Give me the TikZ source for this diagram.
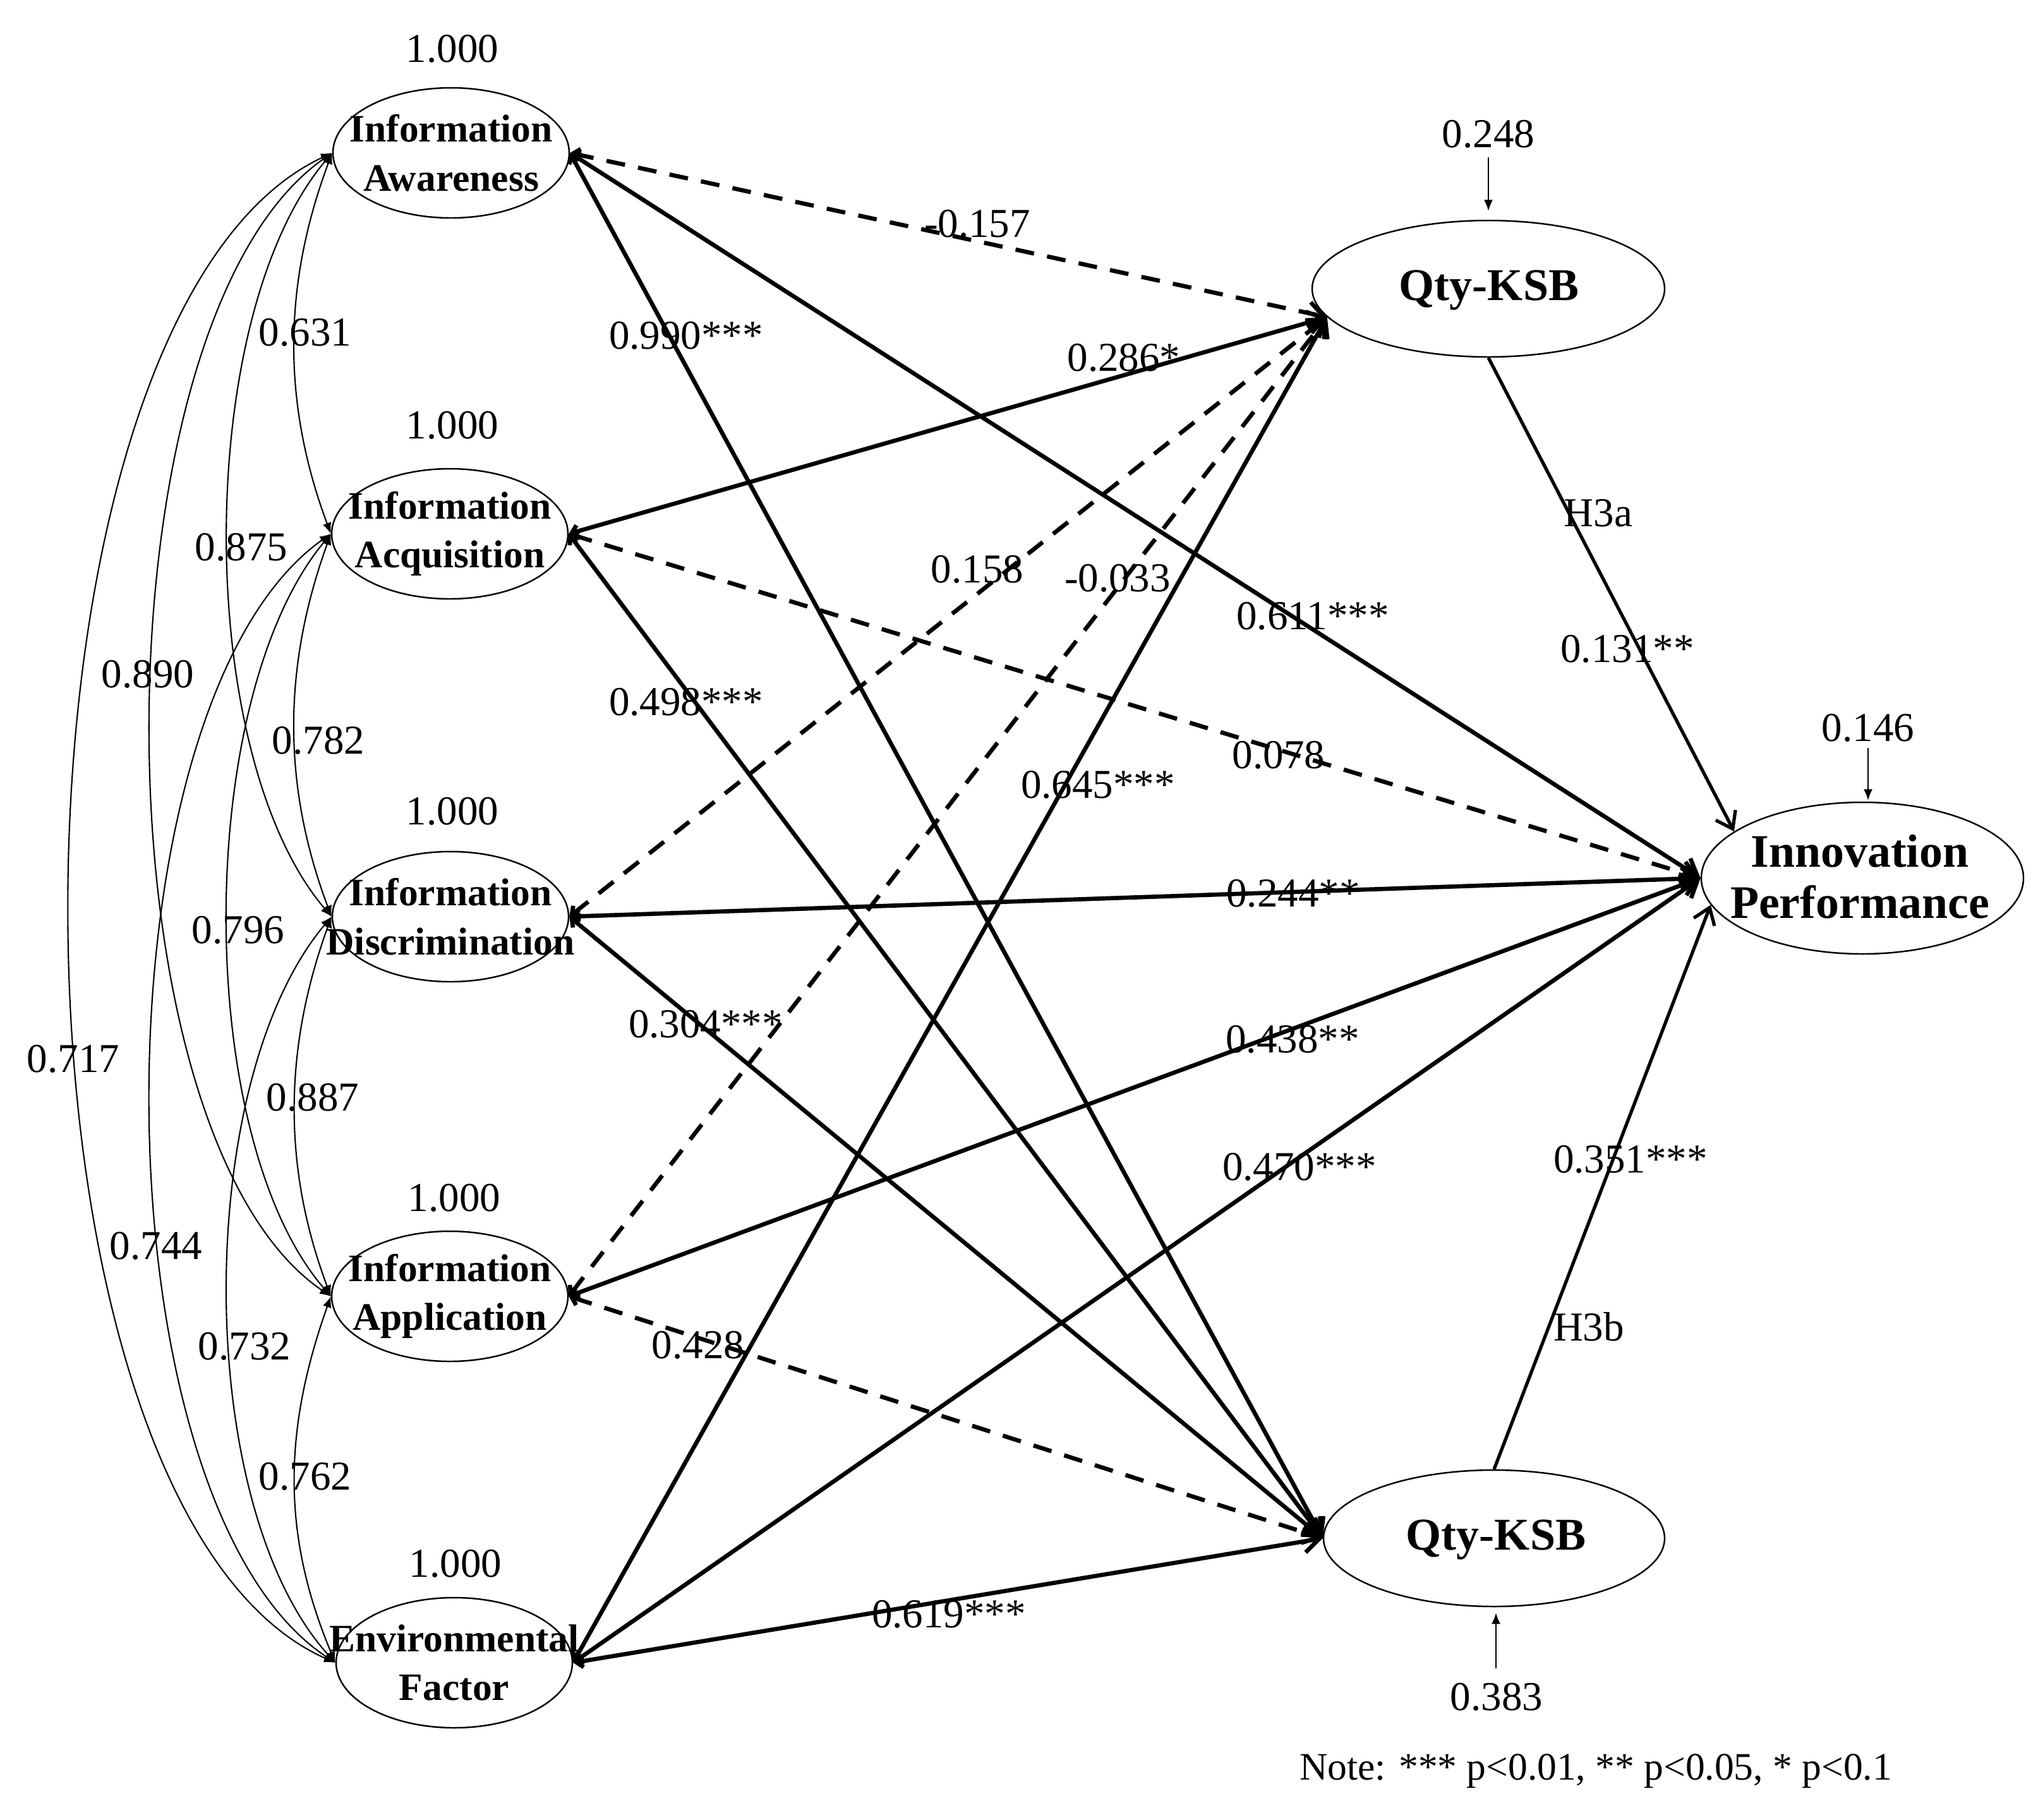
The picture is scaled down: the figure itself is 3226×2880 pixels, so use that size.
\documentclass[tikz,border=0pt]{standalone}
\usepackage{fontspec}
\setmainfont{Liberation Serif}
\usetikzlibrary{arrows.meta,shapes.geometric}
\begin{document}
\begin{tikzpicture}[x=0.1mm,y=-0.1mm,
  latent/.style={draw, ellipse, line width=0.7pt, inner sep=0pt},
  ltext/.style={font=\fontsize{17.5}{22}\selectfont\bfseries, align=center, inner sep=0pt},
  rtext/.style={font=\fontsize{21}{23}\selectfont\bfseries, align=center, inner sep=0pt},
  num/.style={font=\fontsize{18.5}{22}\selectfont, inner sep=0pt},
  solidp/.style={line width=1.9pt, {Straight Barb[length=3pt,width=5.5pt]}-{Straight Barb[length=7pt,width=10pt]}},
  dashp/.style={solidp, dash pattern=on 8.5pt off 6pt},
  hpath/.style={line width=1.5pt, -{Straight Barb[length=7pt,width=10pt]}},
  cov/.style={line width=0.6pt, {Latex[length=5pt,width=4pt]}-{Latex[length=5pt,width=4pt]}},
  dist/.style={line width=0.6pt, -{Latex[length=5pt,width=4pt]}},
]
\useasboundingbox (0,0) rectangle (3226,2880);

% left latent variables
\node[latent, minimum width=37.4mm, minimum height=20.6mm] (aw) at (714,242) {};
\node[ltext] (awt) at (aw) {Information\\Awareness};
\node[latent, minimum width=37.4mm, minimum height=20.6mm] (acq) at (712,845) {};
\node[ltext] (acqt) at (acq) {Information\\Acquisition};
\node[latent, minimum width=37.4mm, minimum height=20.6mm] (disc) at (713,1451) {};
\node[ltext] (disct) at (disc) {Information\\Discrimination};
\node[latent, minimum width=37.4mm, minimum height=20.6mm] (app) at (712,2052) {};
\node[ltext] (appt) at (app) {Information\\Application};
\node[latent, minimum width=37.4mm, minimum height=20.6mm] (env) at (719,2632) {};
\node[ltext] (envt) at (env) {Environmental\\Factor};

% variances
\node[num] (v1) at (716,77) {1.000};
\node[num] (v2) at (716,673) {1.000};
\node[num] (v3) at (716,1284) {1.000};
\node[num] (v4) at (719,1896) {1.000};
\node[num] (v5) at (721,2475) {1.000};

% right latent variables
\node[latent, minimum width=55.8mm, minimum height=21.6mm] (qt) at (2356,457) {};
\node[rtext, font=\fontsize{20.5}{23}\selectfont\bfseries] (qtt) at (2357,459) {Qty-KSB};
\node[latent, minimum width=54mm, minimum height=21.6mm] (qb) at (2365,2435) {};
\node[rtext, font=\fontsize{20.5}{23}\selectfont\bfseries] (qbt) at (2368,2437) {Qty-KSB};
\node[latent, minimum width=51mm, minimum height=24mm] (ip) at (2948,1390) {};
\node[rtext] (ipt) at (2944,1388) {Innovation\\Performance};

% disturbances
\node[num] (d1) at (2356,212) {0.248};
\coordinate (d1a) at (2356,249);
\coordinate (d1b) at (2356,334);
\draw[dist] (d1a) -- (d1b);
\node[num] (d2) at (2957,1152) {0.146};
\coordinate (d2a) at (2957,1184);
\coordinate (d2b) at (2957,1267);
\draw[dist] (d2a) -- (d2b);
\node[num] (d3) at (2369,2686) {0.383};
\coordinate (d3a) at (2368,2641);
\coordinate (d3b) at (2368,2553);
\draw[dist] (d3a) -- (d3b);

% structural paths
\draw[dashp]  (aw.east) -- (qt.190);
\draw[solidp] (aw.east) -- (ip.west);
\draw[solidp] (aw.east) -- (qb.west);
\draw[solidp] (acq.east) -- (qt.190);
\draw[dashp]  (acq.east) -- (ip.west);
\draw[solidp] (acq.east) -- (qb.west);
\draw[dashp]  (disc.east) -- (qt.190);
\draw[solidp] (disc.east) -- (ip.west);
\draw[solidp] (disc.east) -- (qb.west);
\draw[dashp]  (app.east) -- (qt.190);
\draw[solidp] (app.east) -- (ip.west);
\draw[dashp]  (app.east) -- (qb.west);
\draw[solidp] (env.east) -- (qt.190);
\draw[solidp] (env.east) -- (ip.west);
\draw[solidp] (env.east) -- (qb.west);
\draw[hpath] (qt.south) -- (ip.160);
\draw[hpath] (qb.north) -- (ip.190);

% path labels
\node[num] (p1)  at (1547,354)  {-0.157};
\node[num] (p2)  at (1086,531)  {0.990***};
\node[num] (p3)  at (1779,566)  {0.286*};
\node[num] (p4)  at (1547,901)  {0.158};
\node[num] (p5)  at (1769,915)  {-0.033};
\node[num] (p6)  at (2078,975)  {0.611***};
\node[num] (p7)  at (1086,1111) {0.498***};
\node[num] (p8)  at (2024,1195) {0.078};
\node[num] (p9)  at (1738,1242) {0.645***};
\node[num] (p10) at (2047,1414) {0.244**};
\node[num] (p11) at (1117,1621) {0.304***};
\node[num] (p12) at (2046,1645) {0.438**};
\node[num] (p13) at (2057,1847) {0.470***};
\node[num] (p14) at (1105,2129) {0.428};
\node[num] (p15) at (1502,2555) {0.619***};
\node[num] (h1)  at (2530,812)  {H3a};
\node[num] (h2)  at (2576,1027) {0.131**};
\node[num] (h3)  at (2581,1835) {0.351***};
\node[num] (h4)  at (2515,2100) {H3b};

% covariances
\draw[cov] (aw.west) .. controls (447,453) and (447,639) .. (acq.west);
\draw[cov] (acq.west) .. controls (447,1057) and (447,1244) .. (disc.west);
\draw[cov] (disc.west) .. controls (448,1662) and (448,1850) .. (app.west);
\draw[cov] (app.west) .. controls (447,2268) and (447,2432) .. (env.west);
\draw[cov] (aw.west) .. controls (306,503) and (306,1194) .. (disc.west);
\draw[cov] (acq.west) .. controls (306,1107) and (306,1800) .. (app.west);
\draw[cov] (disc.west) .. controls (305,1712) and (305,2382) .. (env.west);
\draw[cov] (aw.west) .. controls (144,509) and (144,1794) .. (app.west);
\draw[cov] (acq.west) .. controls (143,1114) and (143,2375) .. (env.west);
\draw[cov] (aw.west) .. controls (-28,501) and (-28,2384) .. (env.west);

\node[num] (c1)  at (483,526)  {0.631};
\node[num] (c2)  at (382,866)  {0.875};
\node[num] (c3)  at (234,1067) {0.890};
\node[num] (c4)  at (504,1172) {0.782};
\node[num] (c5)  at (377,1472) {0.796};
\node[num] (c6)  at (116,1676) {0.717};
\node[num] (c7)  at (495,1737) {0.887};
\node[num] (c8)  at (247,1972) {0.744};
\node[num] (c9)  at (387,2131) {0.732};
\node[num] (c10) at (483,2337) {0.762};

% note
\node[num, font=\fontsize{17.5}{21}\selectfont] (note) at (2526,2804) {Note: *** p<0.01, ** p<0.05, * p<0.1};
\end{tikzpicture}
\end{document}
